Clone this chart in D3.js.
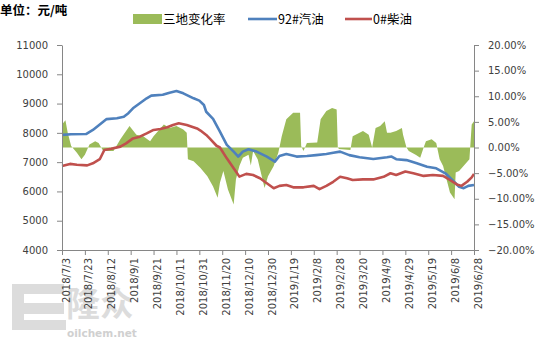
<!DOCTYPE html>
<html>
<head>
<meta charset="utf-8">
<script src="https://cdn.jsdelivr.net/npm/d3@7/dist/d3.min.js"></script>
<style>
  html, body { margin: 0; padding: 0; background: #fff; }
  svg { display: block; }
</style>
</head>
<body>
<svg id="chart" width="539" height="344"></svg>
<script>
// 92# gasoline price (yuan/tonne)
const gasolineDates = ["2018-07-03","2018-07-11","2018-07-24","2018-07-30","2018-08-08","2018-08-11","2018-08-20","2018-08-26","2018-08-30","2018-09-03","2018-09-09","2018-09-15","2018-09-19","2018-09-29","2018-10-05","2018-10-11","2018-10-17","2018-10-26","2018-10-31","2018-11-04","2018-11-06","2018-11-12","2018-11-18","2018-11-24","2018-11-30","2018-12-04","2018-12-08","2018-12-13","2018-12-20","2018-12-29","2019-01-05","2019-01-09","2019-01-15","2019-01-24","2019-02-02","2019-02-10","2019-02-19","2019-02-25","2019-03-03","2019-03-11","2019-03-20","2019-04-01","2019-04-13","2019-04-17","2019-04-21","2019-04-30","2019-05-09","2019-05-18","2019-05-26","2019-06-03","2019-06-09","2019-06-15","2019-06-19","2019-06-23","2019-06-28"];
const gasolineValues = [7930,7950,7960,8100,8380,8470,8500,8550,8670,8840,9010,9180,9270,9300,9370,9430,9350,9180,9100,8950,8720,8480,8040,7590,7360,7190,7360,7440,7360,7190,7020,7210,7280,7190,7210,7240,7280,7320,7360,7240,7165,7110,7165,7190,7100,7070,6960,6845,6790,6620,6390,6160,6110,6190,6220];

// 0# diesel price (yuan/tonne)
const dieselDates = ["2018-07-03","2018-07-10","2018-07-16","2018-07-25","2018-07-30","2018-08-05","2018-08-09","2018-08-15","2018-08-23","2018-08-28","2018-09-03","2018-09-09","2018-09-15","2018-09-21","2018-09-27","2018-10-03","2018-10-08","2018-10-13","2018-10-20","2018-10-29","2018-11-01","2018-11-06","2018-11-09","2018-11-15","2018-11-18","2018-11-24","2018-11-30","2018-12-05","2018-12-11","2018-12-17","2018-12-23","2018-12-29","2019-01-04","2019-01-09","2019-01-15","2019-01-21","2019-01-30","2019-02-08","2019-02-13","2019-02-19","2019-02-25","2019-03-03","2019-03-09","2019-03-14","2019-03-23","2019-04-01","2019-04-10","2019-04-16","2019-04-21","2019-04-29","2019-05-06","2019-05-15","2019-05-23","2019-06-01","2019-06-07","2019-06-13","2019-06-17","2019-06-22","2019-06-26","2019-06-28"];
const dieselValues = [6870,6940,6910,6890,6960,7100,7415,7460,7530,7640,7810,7870,7980,8100,8130,8190,8270,8330,8270,8150,8080,7930,7810,7560,7500,7130,6790,6505,6600,6560,6450,6280,6110,6190,6220,6140,6140,6190,6080,6190,6330,6500,6450,6390,6410,6410,6500,6620,6560,6680,6620,6530,6560,6530,6390,6240,6190,6330,6480,6600];

// change rate across the three regions (%)
const rateDates = ["2018-07-03","2018-07-06","2018-07-08","2018-07-11","2018-07-16","2018-07-20","2018-07-23","2018-07-27","2018-08-01","2018-08-04","2018-08-08","2018-08-17","2018-08-23","2018-08-31","2018-09-06","2018-09-12","2018-09-18","2018-09-21","2018-09-30","2018-10-05","2018-10-11","2018-10-17","2018-10-20","2018-10-21","2018-10-26","2018-11-01","2018-11-07","2018-11-12","2018-11-16","2018-11-18","2018-11-21","2018-11-25","2018-11-30","2018-12-02","2018-12-05","2018-12-08","2018-12-13","2018-12-15","2018-12-17","2018-12-21","2018-12-27","2018-12-30","2019-01-04","2019-01-08","2019-01-09","2019-01-11","2019-01-15","2019-01-21","2019-01-27","2019-01-28","2019-01-30","2019-02-02","2019-02-11","2019-02-14","2019-02-19","2019-02-24","2019-02-28","2019-03-01","2019-03-02","2019-03-12","2019-03-14","2019-03-20","2019-03-23","2019-03-28","2019-03-31","2019-04-03","2019-04-07","2019-04-11","2019-04-13","2019-04-16","2019-04-21","2019-04-26","2019-04-27","2019-04-30","2019-05-02","2019-05-08","2019-05-12","2019-05-15","2019-05-17","2019-05-22","2019-05-26","2019-05-29","2019-06-01","2019-06-04","2019-06-07","2019-06-11","2019-06-12","2019-06-15","2019-06-20","2019-06-24","2019-06-26","2019-06-28"];
const rateValues = [4.5,5.3,2.9,0.3,-1.0,-2.3,-1.4,0.6,1.2,0.9,-0.7,-0.7,1.6,4.2,2.5,2.2,1.2,2.2,4.5,3.8,4.2,3.5,2.9,-2.3,-2.7,-4.0,-5.6,-7.6,-9.8,-6.9,-4.6,-8.2,-11.1,-6.2,-3.6,-2.0,-1.4,-3.5,-0.7,-2.3,-7.9,-5.6,-3.6,-1.0,0.0,2.2,5.5,6.8,6.8,0.3,-0.7,0.9,1.0,5.5,7.1,7.7,7.4,0.0,-0.3,-0.5,2.2,2.9,3.2,2.5,0.0,3.8,4.2,5.1,2.9,2.9,3.2,3.8,2.5,0.0,-0.7,-1.4,-2.0,0.0,1.2,1.6,0.9,-2.3,-3.6,-6.2,-8.8,-10.1,-4.9,-4.6,-3.3,-2.3,4.5,5.1];

// axis ticks
const xTickLabels = ["2018/7/3","2018/7/23","2018/8/12","2018/9/1","2018/9/21","2018/10/11","2018/10/31","2018/11/20","2018/12/10","2018/12/30","2019/1/19","2019/2/8","2019/2/28","2019/3/20","2019/4/9","2019/4/29","2019/5/19","2019/6/8","2019/6/28"];
const priceTicks = [4000,5000,6000,7000,8000,9000,10000,11000];
const rateTicks = [-20,-15,-10,-5,0,5,10,15,20];

const seriesNames = ["三地变化率","92#汽油","0#柴油"];
const colors = { rate: "#9BBB59", gasoline: "#4F81BD", diesel: "#C0504D" };

const parseDate = d3.timeParse("%Y-%m-%d");
const parseTick = d3.timeParse("%Y/%m/%d");

const svg = d3.select("#chart");
const plot = { left: 62, right: 474, top: 45, bottom: 250 };
const labelFont = "'DejaVu Sans', Verdana, sans-serif";
const cjkFont = "'Noto Sans CJK SC', 'Noto Sans', sans-serif";
const textColor = "#404040";
const axisColor = "#868686";

const x = d3.scaleTime()
  .domain([parseDate("2018-07-03"), parseDate("2019-06-28")])
  .range([plot.left, plot.right]);
const yL = d3.scaleLinear().domain([4000, 11000]).range([plot.bottom, plot.top]);
const yR = d3.scaleLinear().domain([-20, 20]).range([plot.bottom, plot.top]);

// watermark logo (behind everything)
const wm = svg.append("g").attr("fill", "#dcdcdc");
wm.append("path")
  .attr("d", "M12,284 h52 v10 h-40 v9 h40 v11 h-40 v6 h42 v10 h-54 z");
wm.append("text")
  .attr("x", 66).attr("y", 316)
  .attr("font-family", cjkFont).attr("font-weight", "bold")
  .attr("font-size", 34)
  .text("隆众");
wm.append("text")
  .attr("x", 67).attr("y", 337)
  .attr("font-family", labelFont).attr("font-weight", "bold")
  .attr("font-size", 10.5).attr("fill", "#d0d0d0")
  .text("oilchem.net");

const rateData = rateDates.map((d, i) => ({ date: parseDate(d), value: rateValues[i] }));
const gasData = gasolineDates.map((d, i) => ({ date: parseDate(d), value: gasolineValues[i] }));
const dieselData = dieselDates.map((d, i) => ({ date: parseDate(d), value: dieselValues[i] }));

// change-rate area, anchored at 0%
svg.append("path")
  .datum(rateData)
  .attr("fill", colors.rate)
  .attr("d", d3.area()
    .x(d => x(d.date))
    .y0(yR(0))
    .y1(d => yR(d.value)));

const priceLine = d3.line().x(d => x(d.date)).y(d => yL(d.value));

svg.append("path")
  .datum(gasData)
  .attr("fill", "none")
  .attr("stroke", colors.gasoline)
  .attr("stroke-width", 2.6)
  .attr("stroke-linejoin", "round")
  .attr("d", priceLine);

svg.append("path")
  .datum(dieselData)
  .attr("fill", "none")
  .attr("stroke", colors.diesel)
  .attr("stroke-width", 2.6)
  .attr("stroke-linejoin", "round")
  .attr("d", priceLine);

// axes
function styleAxis(g) {
  g.selectAll(".domain").attr("stroke", axisColor);
  g.selectAll(".tick line").attr("stroke", axisColor);
  g.selectAll(".tick text")
    .attr("fill", textColor)
    .attr("font-family", labelFont)
    .attr("font-size", 10);
}

svg.append("g")
  .attr("transform", `translate(${plot.left},0)`)
  .call(d3.axisLeft(yL).tickValues(priceTicks).tickSize(5).tickSizeOuter(0).tickPadding(9).tickFormat(d3.format("d")))
  .call(styleAxis);

svg.append("g")
  .attr("transform", `translate(${plot.right},0)`)
  .call(d3.axisRight(yR).tickValues(rateTicks).tickSize(5).tickSizeOuter(0).tickPadding(9).tickFormat(d => d3.format(".2f")(d) + "%"))
  .call(styleAxis);

const xAxis = svg.append("g")
  .attr("transform", `translate(0,${plot.bottom})`)
  .call(d3.axisBottom(x)
    .tickValues(xTickLabels.map(parseTick))
    .tickSize(5).tickSizeOuter(0)
    .tickFormat((d, i) => xTickLabels[i]))
  .call(styleAxis);

xAxis.selectAll(".tick text")
  .attr("text-anchor", "end")
  .attr("dy", null)
  .attr("y", null)
  .attr("transform", "translate(7,8) rotate(-90)");

// title
svg.append("text")
  .attr("x", 0).attr("y", 14.5)
  .attr("font-family", cjkFont).attr("font-weight", "bold")
  .attr("font-size", 12.5).attr("fill", "#000")
  .text("单位：元/吨");

// legend
const legend = svg.append("g").attr("font-family", cjkFont).attr("font-size", 12.5).attr("fill", "#000");
legend.append("rect").attr("x", 133).attr("y", 14).attr("width", 29).attr("height", 10).attr("fill", colors.rate);
legend.append("text").attr("x", 163).attr("y", 23.5).text(seriesNames[0]);
legend.append("line").attr("x1", 248).attr("x2", 277).attr("y1", 19).attr("y2", 19)
  .attr("stroke", colors.gasoline).attr("stroke-width", 2.6);
legend.append("text").attr("x", 278).attr("y", 23.5).text(seriesNames[1]);
legend.append("line").attr("x1", 345).attr("x2", 372).attr("y1", 19).attr("y2", 19)
  .attr("stroke", colors.diesel).attr("stroke-width", 2.6);
legend.append("text").attr("x", 373).attr("y", 23.5).text(seriesNames[2]);
</script>
</body>
</html>
